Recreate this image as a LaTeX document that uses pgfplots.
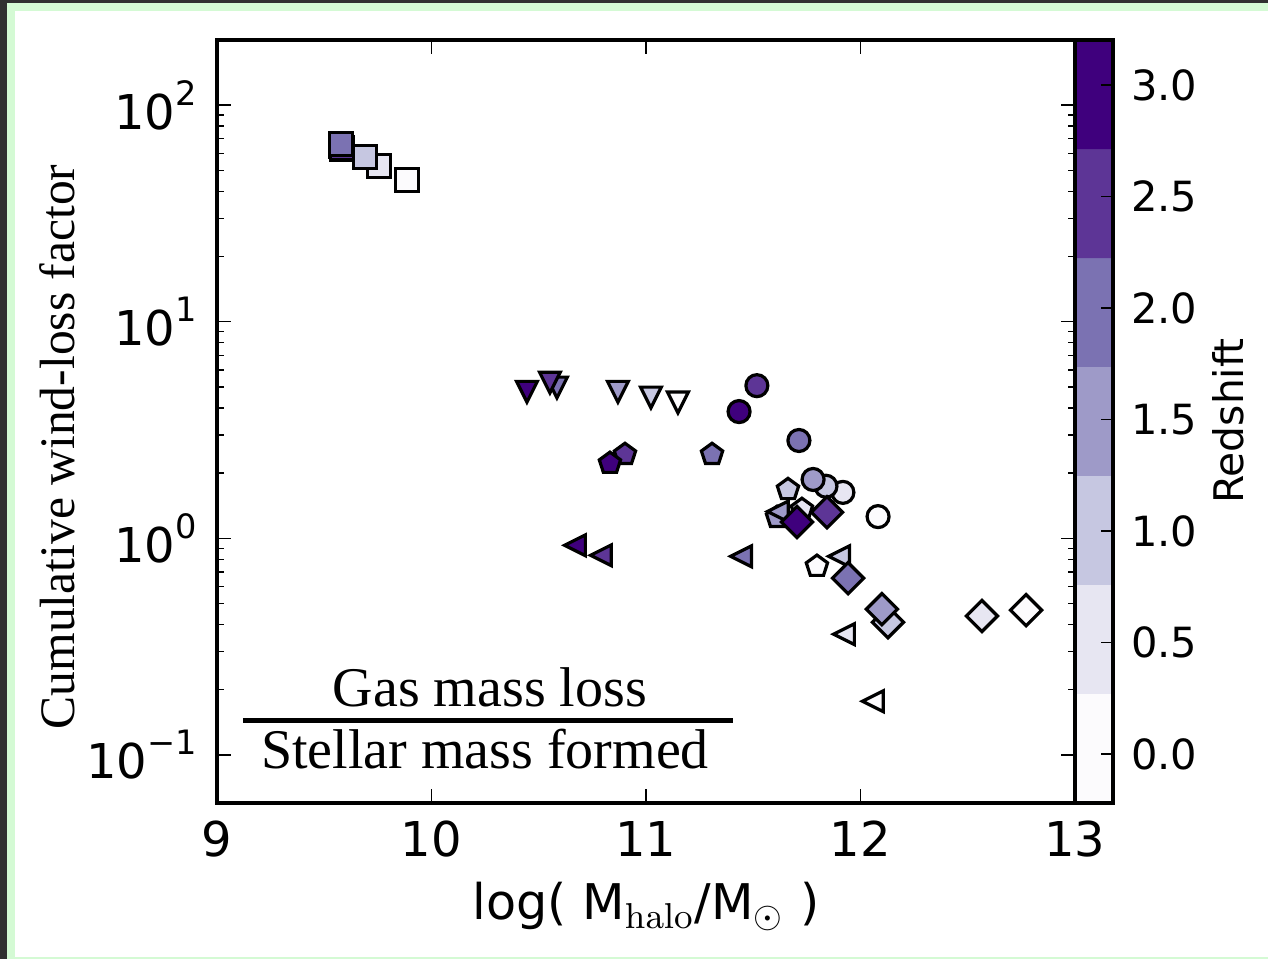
\documentclass[border=0pt]{standalone}
\usepackage[no-math]{fontspec}
\setmainfont{DejaVu Sans}
\newfontfamily\seriffont{Liberation Serif}
\usepackage{pgfplots}
\pgfplotsset{compat=1.18}
\usetikzlibrary{plotmarks}

\definecolor{z0}{HTML}{FCFBFD}
\definecolor{z1}{HTML}{E7E6F2}
\definecolor{z2}{HTML}{C6C7E1}
\definecolor{z3}{HTML}{9E9AC8}
\definecolor{z4}{HTML}{7B72B2}
\definecolor{z5}{HTML}{5D3596}
\definecolor{z6}{HTML}{3F007D}
\definecolor{frameDark}{HTML}{303030}
\definecolor{frameGreen}{HTML}{D4FAD4}

\pgfdeclareplotmark{mtridown}{%
  \pgfpathmoveto{\pgfqpoint{0pt}{-\pgfplotmarksize}}%
  \pgfpathlineto{\pgfqpoint{-\pgfplotmarksize}{\pgfplotmarksize}}%
  \pgfpathlineto{\pgfqpoint{\pgfplotmarksize}{\pgfplotmarksize}}%
  \pgfpathclose\pgfusepathqfillstroke}
\pgfdeclareplotmark{mtrileft}{%
  \pgfpathmoveto{\pgfqpoint{-\pgfplotmarksize}{0pt}}%
  \pgfpathlineto{\pgfqpoint{\pgfplotmarksize}{\pgfplotmarksize}}%
  \pgfpathlineto{\pgfqpoint{\pgfplotmarksize}{-\pgfplotmarksize}}%
  \pgfpathclose\pgfusepathqfillstroke}
\pgfdeclareplotmark{mdiamond}{%
  \pgfpathmoveto{\pgfqpoint{0pt}{\pgfplotmarksize}}%
  \pgfpathlineto{\pgfqpoint{\pgfplotmarksize}{0pt}}%
  \pgfpathlineto{\pgfqpoint{0pt}{-\pgfplotmarksize}}%
  \pgfpathlineto{\pgfqpoint{-\pgfplotmarksize}{0pt}}%
  \pgfpathclose\pgfusepathqfillstroke}

\newcommand{\tp}[1]{10\raisebox{0.5em}{\fontsize{8.4}{9}\selectfont #1}}

\pgfplotsset{
  zclasses/.style={
    scatter, only marks, draw=black,
    scatter src=explicit symbolic,
    mark options={line width=0.8pt, draw=black, solid},
    scatter/classes={
      a={fill=z0}, b={fill=z1}, c={fill=z2}, d={fill=z3},
      e={fill=z4}, f={fill=z5}, g={fill=z6}}
  }
}

\begin{document}
\begin{tikzpicture}
\path[use as bounding box] (0,0) rectangle (317pt,239.75pt);
\fill[frameDark] (0,0) rectangle (317pt,239.75pt);
\fill[frameGreen] (1.75pt,0) rectangle (317pt,239pt);
\fill[white] (3.75pt,0.5pt) rectangle (317pt,237pt);

\begin{axis}[
  at={(54.25pt,39pt)}, anchor=south west,
  scale only axis, width=214.5pt, height=190.75pt,
  xmin=9, xmax=13, ymode=log, ymin=0.06, ymax=200,
  xtick={9,10,11,12,13}, minor x tick num=0,
  ytick={0.1,1,10,100},
  yticklabels={\tp{−1},\tp{0},\tp{1},\tp{2}},
  major tick length=3.5pt, minor tick length=1.75pt,
  tick style={line width=0.35pt, black},
  axis line style={line width=1pt},
  tick label style={font=\fontsize{12}{14}\selectfont},
  /pgf/number format/assume math mode=true,
  xticklabel style={yshift=-1pt},
  yticklabel style={xshift=-1.5pt},
]
% squares
\addplot[zclasses, mark=square*, mark size=2.85pt] table[meta=c] {
x y c
9.886 45.1 a
9.755 52.4 b
9.690 57.5 c
9.580 64.5 d
9.585 62.8 g
9.583 63.4 f
9.578 66.1 e
};
% down triangles
\addplot[zclasses, mark=mtridown, mark size=2.6pt] table[meta=c] {
x y c
11.149 4.24 a
11.023 4.47 c
10.869 4.75 d
10.585 4.97 e
10.552 5.24 f
10.445 4.75 g
};
% pentagons
\addplot[zclasses, mark=pentagon*, mark size=2.8pt] table[meta=c] {
x y c
11.797 0.743 a
11.727 1.36 b
11.662 1.68 c
11.611 1.25 d
11.308 2.44 e
10.902 2.44 f
10.832 2.22 g
};
% circles
\addplot[zclasses, mark=*, mark size=2.75pt] table[meta=c] {
x y c
12.082 1.26 a
11.918 1.63 b
11.839 1.74 c
11.779 1.87 d
11.713 2.83 e
11.517 5.07 f
11.434 3.85 g
};
% left triangles
\addplot[zclasses, mark=mtrileft, mark size=2.6pt] table[meta=c] {
x y c
12.058 0.177 a
11.923 0.361 b
11.900 0.826 c
11.615 1.33 d
11.443 0.826 e
10.790 0.835 f
10.669 0.929 g
};
% diamonds
\addplot[zclasses, mark=mdiamond, mark size=3.9pt] table[meta=c] {
x y c
12.772 0.466 a
12.566 0.438 b
12.128 0.410 c
12.100 0.471 d
11.942 0.655 e
11.844 1.32 f
11.704 1.19 g
};
\end{axis}

% colorbar
\begin{axis}[
  at={(268.75pt,39pt)}, anchor=south west,
  scale only axis, width=9.5pt, height=190.75pt,
  xmin=0, xmax=1, ymin=-0.22, ymax=3.202,
  xtick=\empty,
  ytick={0,0.5,1,1.5,2,2.5,3},
  yticklabels={0.0,0.5,1.0,1.5,2.0,2.5,3.0},
  ytick pos=right, yticklabel pos=right,
  tick align=inside, major tick length=3pt,
  tick style={line width=0.35pt, black},
  axis line style={line width=1pt},
  tick label style={font=\fontsize{10.4}{12}\selectfont},
  yticklabel style={xshift=1pt},
  axis on top,
]
\addplot[fill=z0, draw=none] coordinates {(0,-0.22) (1,-0.22) (1,0.269) (0,0.269) (0,-0.22)};
\addplot[fill=z1, draw=none] coordinates {(0,0.269) (1,0.269) (1,0.758) (0,0.758) (0,0.269)};
\addplot[fill=z2, draw=none] coordinates {(0,0.758) (1,0.758) (1,1.247) (0,1.247) (0,0.758)};
\addplot[fill=z3, draw=none] coordinates {(0,1.247) (1,1.247) (1,1.736) (0,1.736) (0,1.247)};
\addplot[fill=z4, draw=none] coordinates {(0,1.736) (1,1.736) (1,2.224) (0,2.224) (0,1.736)};
\addplot[fill=z5, draw=none] coordinates {(0,2.224) (1,2.224) (1,2.713) (0,2.713) (0,2.224)};
\addplot[fill=z6, draw=none] coordinates {(0,2.713) (1,2.713) (1,3.202) (0,3.202) (0,2.713)};
\end{axis}

% labels
\node[rotate=90, font=\seriffont\fontsize{12.4}{14}\selectfont] at (14.25pt,128pt) {Cumulative wind-loss factor};
\node[anchor=base, font=\fontsize{12.3}{14}\selectfont, inner sep=0pt] at (161.5pt,9.75pt) {log( M$_{\mathrm{halo}}$/M$_{\odot}$ )};
\node[rotate=90, font=\fontsize{10.2}{12}\selectfont] at (307pt,134.5pt) {Redshift};
\node[anchor=base, font=\seriffont\fontsize{14}{16}\selectfont, inner sep=0pt] at (122.5pt,63pt) {Gas mass loss};
\node[anchor=base, font=\seriffont\fontsize{14}{16}\selectfont, inner sep=0pt] at (121.25pt,47.5pt) {Stellar mass formed};
\draw[line width=1.25pt] (60.75pt,59.5pt) -- (183.25pt,59.5pt);
\end{tikzpicture}
\end{document}
